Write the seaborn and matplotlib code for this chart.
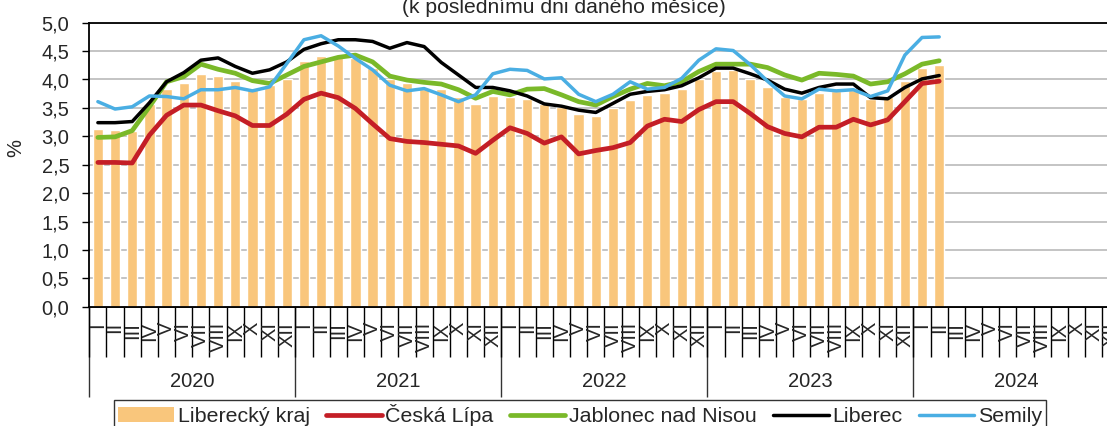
import numpy as np
import pandas as pd
import matplotlib
matplotlib.use("Agg")
import matplotlib.pyplot as plt
from matplotlib.lines import Line2D
from matplotlib.patches import Patch
import seaborn as sns

# monthly data 2020-01 .. 2024-02 (values in %)
years = ["2020", "2021", "2022", "2023", "2024"]
months = ["I", "II", "III", "IV", "V", "VI", "VII", "VIII", "IX", "X", "XI", "XII"]

liberecky_kraj = [3.12, 3.11, 3.10, 3.56, 3.83, 3.93, 4.10, 4.06, 3.97, 3.85, 3.90, 4.01,
                  4.33, 4.41, 4.40, 4.38, 4.20, 4.00, 3.94, 3.84, 3.83, 3.70, 3.56, 3.71,
                  3.70, 3.66, 3.56, 3.51, 3.39, 3.36, 3.49, 3.64, 3.73, 3.76, 3.83, 4.00,
                  4.15, 4.16, 4.00, 3.86, 3.70, 3.65, 3.76, 3.79, 3.82, 3.66, 3.70, 3.98,
                  4.20, 4.26]
ceska_lipa = [2.54, 2.54, 2.53, 3.02, 3.37, 3.55, 3.55, 3.45, 3.36, 3.19, 3.19, 3.39,
              3.65, 3.76, 3.68, 3.49, 3.22, 2.96, 2.91, 2.89, 2.86, 2.83, 2.70, 2.93,
              3.15, 3.05, 2.88, 2.99, 2.69, 2.75, 2.80, 2.89, 3.18, 3.30, 3.26, 3.47,
              3.61, 3.61, 3.40, 3.17, 3.05, 2.99, 3.16, 3.16, 3.30, 3.20, 3.29, 3.61,
              3.93, 3.97]
jablonec = [2.98, 2.99, 3.10, 3.52, 3.96, 4.05, 4.27, 4.18, 4.11, 3.98, 3.93, 4.08,
            4.23, 4.31, 4.39, 4.43, 4.31, 4.06, 3.99, 3.95, 3.92, 3.82, 3.67, 3.79,
            3.73, 3.83, 3.84, 3.73, 3.61, 3.55, 3.70, 3.83, 3.93, 3.89, 3.96, 4.14,
            4.27, 4.27, 4.27, 4.21, 4.08, 3.99, 4.11, 4.09, 4.06, 3.92, 3.96, 4.10,
            4.27, 4.33]
liberec = [3.24, 3.24, 3.26, 3.59, 3.96, 4.12, 4.34, 4.38, 4.23, 4.11, 4.17, 4.31,
           4.53, 4.63, 4.70, 4.70, 4.67, 4.55, 4.65, 4.58, 4.30, 4.08, 3.86, 3.86,
           3.80, 3.71, 3.57, 3.53, 3.46, 3.42, 3.58, 3.74, 3.79, 3.82, 3.89, 4.03,
           4.20, 4.20, 4.10, 3.99, 3.83, 3.76, 3.86, 3.92, 3.92, 3.68, 3.66, 3.86,
           4.01, 4.07]
semily = [3.61, 3.48, 3.52, 3.71, 3.70, 3.66, 3.82, 3.82, 3.86, 3.80, 3.87, 4.28,
          4.70, 4.77, 4.59, 4.37, 4.17, 3.90, 3.80, 3.84, 3.73, 3.61, 3.73, 4.10,
          4.18, 4.16, 4.01, 4.03, 3.74, 3.61, 3.74, 3.96, 3.83, 3.86, 4.02, 4.34,
          4.54, 4.51, 4.26, 3.97, 3.71, 3.66, 3.83, 3.80, 3.82, 3.70, 3.80, 4.43,
          4.74, 4.75]

line_names = ["Česká Lípa", "Jablonec nad Nisou", "Liberec", "Semily"]
line_colors = ["#C41E26", "#7AB929", "#000000", "#4AAEE3"]
line_widths = [3.4, 3.4, 2.5, 2.5]
bar_color = "#F9C67C"

sns.set_style("white")
plt.rcParams["font.family"] = ["Liberation Sans", "DejaVu Sans"]
fs = 14.5

n_months = len(years) * 12
idx = np.arange(len(liberecky_kraj))

fig = plt.figure(figsize=(11.07, 4.26), dpi=100)
ax = fig.add_axes([89.3 / 1107, 1 - 306.7 / 426, 60 * 17.17 / 1107, 284 / 426])

bars = pd.DataFrame({"m": idx, "v": liberecky_kraj})
sns.barplot(data=bars, x="m", y="v", color=bar_color, saturation=1, width=0.6, ax=ax, zorder=2)

long = pd.concat([pd.DataFrame({"m": idx, "v": vals, "okres": name})
                  for name, vals in zip(line_names, [ceska_lipa, jablonec, liberec, semily])])
for name, col, lw in zip(line_names, line_colors, line_widths):
    sns.lineplot(data=long[long["okres"] == name], x="m", y="v", color=col,
                 linewidth=lw, ax=ax, zorder=3, legend=False)

ax.set_xlim(-0.5, n_months - 0.5)
ax.set_ylim(0, 5)
yt = np.arange(0, 5.01, 0.5)
ax.set_yticks(yt)
ax.set_yticklabels([f"{t:.1f}".replace(".", ",") for t in yt], fontsize=fs)
ax.set_ylabel("%", fontsize=fs)
ax.yaxis.set_label_coords(-0.0624, 0.56)
ax.set_xlabel("")
ax.grid(axis="y", color="#C4C4C4", linewidth=1.4)
ax.set_axisbelow(True)
for s in ["left", "top", "bottom"]:
    ax.spines[s].set_color("black")
    ax.spines[s].set_linewidth(1.3)
ax.spines["right"].set_visible(False)
ax.tick_params(axis="y", left=True, length=5, width=1, pad=9.4, color="black")

# month separators and roman month labels
ax.set_xticks(np.arange(n_months + 1) - 0.5)
ax.set_xticklabels([])
ax.tick_params(axis="x", which="major", bottom=True, length=36, width=1, color="black")
ax.set_xticks(np.arange(n_months), minor=True)
ax.set_xticklabels(months * len(years), minor=True, rotation=90, fontsize=fs,
                   va="top", ha="center")
ax.tick_params(axis="x", which="minor", length=0, pad=11)

# year separators and year labels
sec = ax.secondary_xaxis("bottom")
sec.set_xticks(np.arange(len(years) + 1) * 12 - 0.5)
sec.set_xticklabels([])
sec.tick_params(which="major", length=65, width=1, color="#333333")
sec.set_xticks(np.arange(len(years)) * 12 + 5.5, minor=True)
sec.set_xticklabels(years, minor=True, fontsize=fs)
sec.tick_params(which="minor", length=0, pad=46.8)
sec.spines["bottom"].set_linewidth(1.3)

fig.text(563.7 / 1107, 1 - 13.3 / 426, "(k poslednímu dni daného měsíce)",
         ha="center", va="baseline", fontsize=15.2)

fs_leg = 15.4
handles = [Patch(facecolor=bar_color, edgecolor="none")]
handles += [Line2D([], [], color=c, linewidth=lw) for c, lw in zip(line_colors, line_widths)]
leg = fig.legend(handles, ["Liberecký kraj"] + line_names, loc="upper left",
                 bbox_to_anchor=(114 / 1107, 1 - 400 / 426), ncol=5, fontsize=fs_leg,
                 frameon=True, fancybox=False, edgecolor="black", handlelength=2.6,
                 handletextpad=0.18, columnspacing=0.75, borderpad=0.2,
                 borderaxespad=0)
leg.get_frame().set_linewidth(1.0)

fig.savefig("out.png", dpi=100)
